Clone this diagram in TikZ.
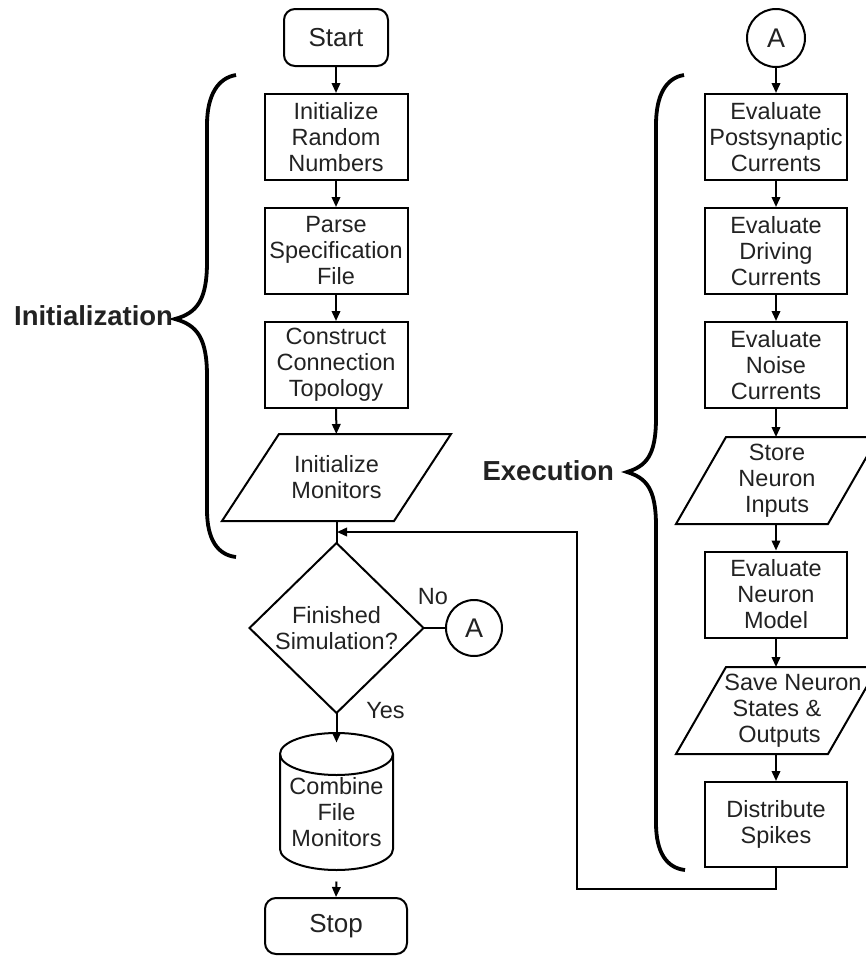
\documentclass[tikz,border=0pt]{standalone}
\usepackage{fontspec}
\setmainfont{Liberation Sans}
\usetikzlibrary{arrows.meta,calc}
\definecolor{ink}{RGB}{34,34,34}
\begin{document}
\begin{tikzpicture}[x=1pt,y=-1pt,line width=2pt,
  base/.style={font=\fontsize{23.5}{26}\selectfont,text=ink,align=center,inner sep=0pt},
  proc/.style={base,draw,rectangle,minimum width=143pt,minimum height=86pt},
  term/.style={base,draw,rounded corners=11pt,font=\fontsize{26}{28}\selectfont},
  conn/.style={base,draw,circle,font=\fontsize{27}{28}\selectfont},
  slot/.style={base,rectangle,draw=none},
  flow/.style={-{Triangle[length=10pt,width=8.5pt]}},
  bracepath/.style={line width=3.8pt},
  phase/.style={font=\fontsize{27.5}{30}\selectfont\bfseries,text=ink,inner sep=0pt},
  tag/.style={font=\fontsize{23.5}{26}\selectfont,text=ink,inner sep=0pt}]
\useasboundingbox (0,0) rectangle (866,956);

% ---------- set-up column ----------
\node[term,minimum width=104pt,minimum height=57pt] (start) at (336,37.5) {Start};
\node[proc] (rng) at (336,137) {Initialize\\Random\\Numbers};
\node[proc] (parse) at (336,251) {Parse\\Specification\\File};
\node[proc] (topo) at (336,365) {Construct\\Connection\\Topology};
\node[slot,minimum width=227pt,minimum height=85pt] (mon) at (336.5,477.5) {Initialize\\Monitors};
\draw ($(mon.north west)+(57,0)$) -- (mon.north east) -- ($(mon.south east)+(-57,0)$) -- (mon.south west) -- cycle;

\node[slot,minimum width=172pt,minimum height=168pt] (done) at (336.5,628) {Finished\\Simulation?};
\draw (done.north) -- (done.east) -- (done.south) -- (done.west) -- cycle;

\node[conn,minimum size=56pt] (ja) at (474,628) {A};

\node[slot,minimum width=113pt,minimum height=137pt] (merge) at (336.5,812) {Combine\\File\\Monitors};
% cylinder outline
\draw (280,754) -- (280,849)
  .. controls (280,860.6) and (305.3,870) .. (336.5,870)
  .. controls (367.7,870) and (393,860.6) .. (393,849)
  -- (393,754)
  .. controls (393,742.4) and (367.7,733) .. (336.5,733)
  .. controls (305.3,733) and (280,742.4) .. (280,754) -- cycle;
\draw (280,754) .. controls (280,765.6) and (305.3,775) .. (336.5,775)
  .. controls (367.7,775) and (393,765.6) .. (393,754);

\node[term,minimum width=142pt,minimum height=56pt] (stop) at (336,926) {Stop};

% ---------- time-step column ----------
\node[conn,minimum size=58pt] (ka) at (776,38) {A};
\node[proc,minimum width=142pt] (psc) at (776,137) {Evaluate\\Postsynaptic\\Currents};
\node[proc,minimum width=142pt] (drv) at (776,251) {Evaluate\\Driving\\Currents};
\node[proc,minimum width=142pt] (noise) at (776,365) {Evaluate\\Noise\\Currents};
\node[slot,minimum width=200pt,minimum height=85pt] (store) at (777,480.5) {Store\\Neuron\\Inputs};
\draw ($(store.north west)+(50,0)$) -- (store.north east) -- ($(store.south east)+(-50,0)$) -- (store.south west) -- cycle;
\node[proc,minimum width=142pt] (model) at (776,594.5) {Evaluate\\Neuron\\Model};
\node[slot,minimum width=200pt,minimum height=85pt] (save) at (777,710.5) {\hspace*{32pt}Save Neuron\\States \&\\\hspace*{5pt}Outputs};
\draw ($(save.north west)+(50,0)$) -- (save.north east) -- ($(save.south east)+(-50,0)$) -- (save.south west) -- cycle;
\node[proc,minimum width=142pt,minimum height=85pt] (spk) at (776,824.5) {Distribute\\Spikes};

% ---------- connectors ----------
\draw[flow] (start) -- (rng);
\draw[flow] (rng) -- (parse);
\draw[flow] (parse) -- (topo);
\draw[flow] (topo) -- (mon);
\draw (mon.south) -- (done.north);
\draw (done.east) -- (ja);
\draw[flow] (done.south) -- (merge.north);
\draw[flow] (merge.south) -- (stop.north);

\draw[flow] (ka) -- (psc);
\draw[flow] (psc) -- (drv);
\draw[flow] (drv) -- (noise);
\draw[flow] (noise) -- (store.north -| noise.south);
\draw[flow] (store.south -| model.north) -- (model);
\draw[flow] (model) -- (save.north -| model.south);
\draw[flow] (save.south -| spk.north) -- (spk);

\coordinate (back) at (577,889);
\coordinate (join) at (337,532);
\draw[flow] (spk.south) |- (back) |- (join);

% ---------- labels ----------
\node[tag,anchor=base] (no) at (433,604) {No};
\node[tag,anchor=base] (yes) at (385.5,718) {Yes};

% ---------- phase braces ----------
\draw[bracepath] (236,75) .. controls (218,78) and (207,95) .. (207,125) -- (207,262)
  .. controls (207,300) and (197,313) .. (175,319)
  .. controls (197,325) and (207,338) .. (207,376) -- (207,510)
  .. controls (207,540) and (218,555) .. (236,557);
\node[phase,anchor=base east] (initlbl) at (174,325) {Initialization};

\draw[bracepath] (684,75) .. controls (666,78) and (656,95) .. (656,125) -- (656,418)
  .. controls (656,456) and (646,466) .. (627,472)
  .. controls (646,478) and (656,488) .. (656,526) -- (656,823)
  .. controls (656,853) and (667,868) .. (685,870);
\node[phase,anchor=base east] (execlbl) at (615,480) {Execution};
\end{tikzpicture}
\end{document}
